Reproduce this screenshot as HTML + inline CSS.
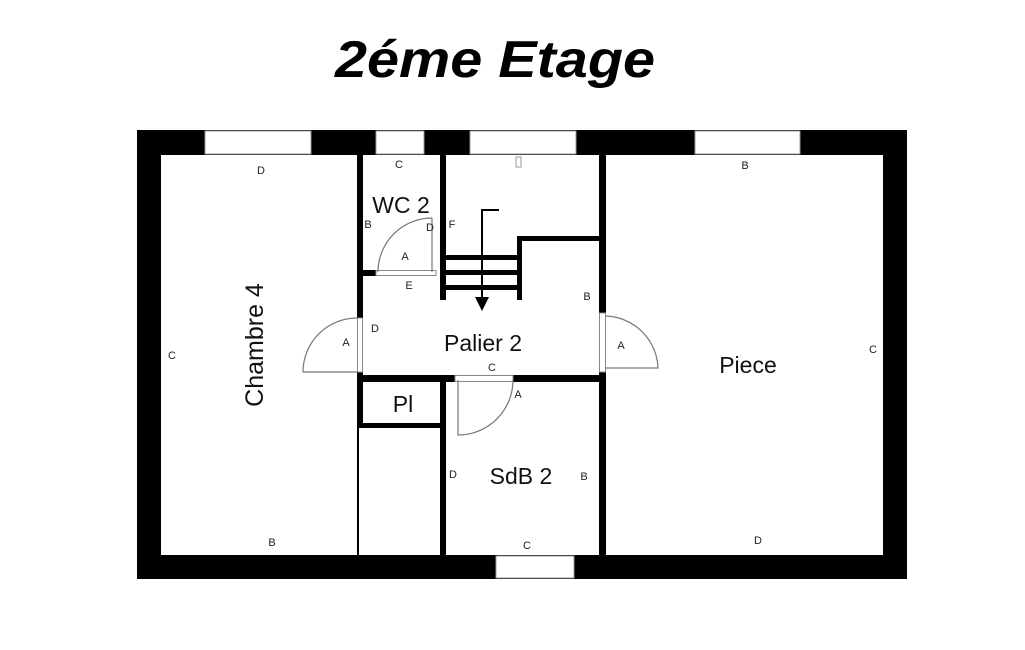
<!DOCTYPE html>
<html><head><style>body{margin:0;background:#fff}svg{display:block}</style></head><body>
<svg width="1025" height="650" viewBox="0 0 1025 650" font-family="Liberation Sans, sans-serif">
<rect width="1025" height="650" fill="#fff"/>
<text x="335" y="77" font-size="52" font-weight="bold" font-style="italic" textLength="320" lengthAdjust="spacingAndGlyphs">2éme Etage</text>
<!-- outer walls -->
<path d="M137 130H907V579H137Z M161 155V555H883V155Z" fill="#000" fill-rule="evenodd"/>
<g fill="#fff" stroke="#999" stroke-width="1">
<rect x="205" y="131" width="106" height="23"/>
<rect x="376" y="131" width="48" height="23"/>
<rect x="470" y="131" width="106" height="23"/>
<rect x="695" y="131" width="105" height="23"/>
<rect x="496" y="556" width="78" height="22"/>
</g>
<g fill="#000">
<rect x="357" y="155" width="6" height="163"/>
<rect x="357" y="372" width="6" height="56"/>
<rect x="357" y="428" width="2" height="127"/>
<rect x="440" y="155" width="6" height="145"/>
<rect x="357" y="270" width="19" height="6"/>
<rect x="443" y="255" width="78" height="5"/>
<rect x="443" y="270" width="78" height="5"/>
<rect x="443" y="285" width="78" height="5"/>
<rect x="517" y="237" width="5" height="63"/>
<rect x="517" y="236" width="85" height="5"/>
<rect x="481" y="209" width="2" height="90"/>
<rect x="481" y="209" width="18" height="2"/>
<polygon points="475,297 489,297 482,311"/>
<rect x="599" y="155" width="7" height="158"/>
<rect x="599" y="372" width="7" height="183"/>
<rect x="357" y="375" width="98" height="7"/>
<rect x="513" y="375" width="93" height="7"/>
<rect x="440" y="375" width="6" height="180"/>
<rect x="357" y="423" width="86" height="5"/>
</g>
<g fill="#fff" stroke="#888" stroke-width="1">
<rect x="357.5" y="318" width="5" height="54"/>
<rect x="376" y="270.5" width="60" height="5"/>
<rect x="599.5" y="313" width="6" height="59"/>
<rect x="455" y="375.5" width="58" height="6"/>
</g>
<g fill="none" stroke="#777" stroke-width="1.2">
<path d="M357 318A54 54 0 0 0 303 372H357"/>
<path d="M432 218A54 54 0 0 0 378 272M432 218V272"/>
<path d="M606 316A54 54 0 0 1 658 368H606"/>
<path d="M513 380A55 55 0 0 1 458 435V380"/>
</g>
<rect x="516" y="157" width="5" height="10" fill="none" stroke="#999"/>
<g font-size="11" text-anchor="middle" fill="#222">
<text x="261" y="174">D</text><text x="172" y="359">C</text><text x="272" y="546">B</text>
<text x="399" y="168">C</text><text x="368" y="228">B</text><text x="430" y="231">D</text>
<text x="405" y="260">A</text><text x="409" y="289">E</text><text x="452" y="228">F</text>
<text x="346" y="346">A</text><text x="375" y="332">D</text><text x="587" y="300">B</text>
<text x="621" y="349">A</text><text x="492" y="371">C</text><text x="518" y="398">A</text>
<text x="453" y="478">D</text><text x="584" y="480">B</text><text x="527" y="549">C</text>
<text x="745" y="169">B</text><text x="873" y="353">C</text><text x="758" y="544">D</text>
</g>
<g font-size="23" text-anchor="middle" fill="#111">
<text x="401" y="213">WC 2</text>
<text x="483" y="351">Palier 2</text>
<text x="403" y="412">Pl</text>
<text x="521" y="484">SdB 2</text>
<text x="748" y="373">Piece</text>
<text transform="translate(263,345) rotate(-90)" font-size="25">Chambre 4</text>
</g>
</svg>
</body></html>
